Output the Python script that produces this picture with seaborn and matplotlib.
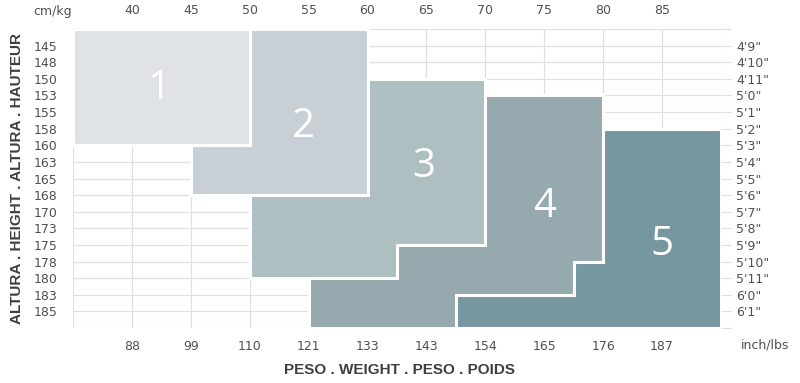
import matplotlib
matplotlib.use("Agg")
import matplotlib.pyplot as plt
import seaborn as sns

# tallas: límites de peso (kg) y altura (cm) de cada región
kg_ticks = [40, 45, 50, 55, 60, 65, 70, 75, 80, 85]
lbs_labels = ["88", "99", "110", "121", "133", "143", "154", "165", "176", "187"]
heights_cm = [145, 148, 150, 153, 155, 158, 160, 163, 165, 168, 170, 173, 175, 178, 180, 183, 185]
heights_in = ["4'9\"", "4'10\"", "4'11\"", "5'0\"", "5'1\"", "5'2\"", "5'3\"", "5'4\"", "5'5\"",
              "5'6\"", "5'7\"", "5'8\"", "5'9\"", "5'10\"", "5'11\"", "6'0\"", "6'1\""]

sizes = ["1", "2", "3", "4", "5"]
size_kg = {
    "1": [35, 50, 50, 35],
    "2": [50, 60, 60, 45, 45, 50],
    "3": [60, 70, 70, 62.5, 62.5, 50, 50, 60],
    "4": [70, 80, 80, 77.5, 77.5, 67.5, 67.5, 55, 55, 62.5, 62.5, 70],
    "5": [80, 90, 90, 67.5, 67.5, 77.5, 77.5, 80],
}
size_cm = {
    "1": ["top", "top", 160, 160],
    "2": ["top", "top", 168, 168, 160, 160],
    "3": [150, 150, 175, 175, 180, 180, 168, 168],
    "4": [153, 153, 178, 178, 183, 183, "bottom", "bottom", 180, 180, 175, 175],
    "5": [158, 158, "bottom", "bottom", 183, 183, 178, 178],
}
colors = ["#dfe3e6", "#c8d0d6", "#adbfc1", "#95a9af", "#7797a0"]
label_pos = {"1": (42.3, 2.6), "2": (54.6, 4.9), "3": (64.8, 7.3), "4": (75.0, 9.7), "5": (85.0, 12.0)}

sns.set_style("white")
plt.rcParams['font.family'] = ['DejaVu Sans']

row = {h: i for i, h in enumerate(heights_cm)}
row["top"] = -1
row["bottom"] = len(heights_cm)

fig = plt.figure(figsize=(8, 3.83), dpi=100)
ax = fig.add_axes([73 / 800, 1 - 328 / 383, (721 - 73) / 800, (328 - 29) / 383])

grid_c = "#dde0e3"
for x in range(35, 91, 5):
    ax.axvline(x, color=grid_c, lw=0.9, zorder=0)
for y in range(-1, len(heights_cm) + 1):
    ax.axhline(y, color=grid_c, lw=0.9, zorder=0)

for s, c in zip(sizes, colors):
    ys = [row[h] for h in size_cm[s]]
    ax.fill(size_kg[s], ys, facecolor=c, edgecolor="white", lw=2.2, zorder=2)
    lx, ly = label_pos[s]
    ax.text(lx, ly, s, color="white", fontsize=29, ha="center", va="center",
            family=["Open Sans", "DejaVu Sans"], zorder=3)

ax.set_xlim(35, 90)
ax.set_ylim(len(heights_cm), -1)
sns.despine(ax=ax, left=True, right=True, top=True, bottom=True)

txt_c = "#505050"
ax.xaxis.tick_top()
ax.set_xticks(kg_ticks)
ax.set_xticklabels([str(k) for k in kg_ticks])
ax.tick_params(axis="x", length=0, pad=9, labelsize=9, labelcolor=txt_c)

ax.set_yticks(range(-1, len(heights_cm) + 1))
ax.set_yticklabels([""] + [str(h) for h in heights_cm] + [""])
ax.tick_params(axis="y", length=7, width=0.9, color=grid_c, pad=4, labelsize=9, labelcolor=txt_c)

sec_x = ax.secondary_xaxis("bottom")
sec_x.set_xticks(kg_ticks)
sec_x.set_xticklabels(lbs_labels)
sec_x.tick_params(length=0, pad=9, labelsize=9, labelcolor=txt_c)
for sp in sec_x.spines.values():
    sp.set_visible(False)

sec_y = ax.secondary_yaxis("right")
sec_y.set_yticks(range(-1, len(heights_cm) + 1))
sec_y.set_yticklabels([""] + heights_in + [""])
sec_y.tick_params(length=7, width=0.9, color=grid_c, pad=4, labelsize=9, labelcolor=txt_c)
for sp in sec_y.spines.values():
    sp.set_visible(False)

fig.text(53 / 800, 1 - 12 / 383, "cm/kg", ha="center", va="center", fontsize=9, color=txt_c)
fig.text(765 / 800, 1 - 345 / 383, "inch/lbs", ha="center", va="center", fontsize=9, color=txt_c)

label_font = ["Liberation Sans Narrow", "Liberation Sans", "DejaVu Sans"]
fig.text(400 / 800, 1 - 370 / 383, "PESO . WEIGHT . PESO . POIDS", ha="center", va="center",
         fontsize=11, fontweight="bold", color="#3f3f3f", family=label_font)
fig.text(17 / 800, 1 - 179 / 383, "ALTURA . HEIGHT . ALTURA . HAUTEUR", ha="center", va="center",
         rotation=90, fontsize=11, fontweight="bold", color="#3f3f3f", family=label_font)

fig.savefig("out.png", dpi=100)
